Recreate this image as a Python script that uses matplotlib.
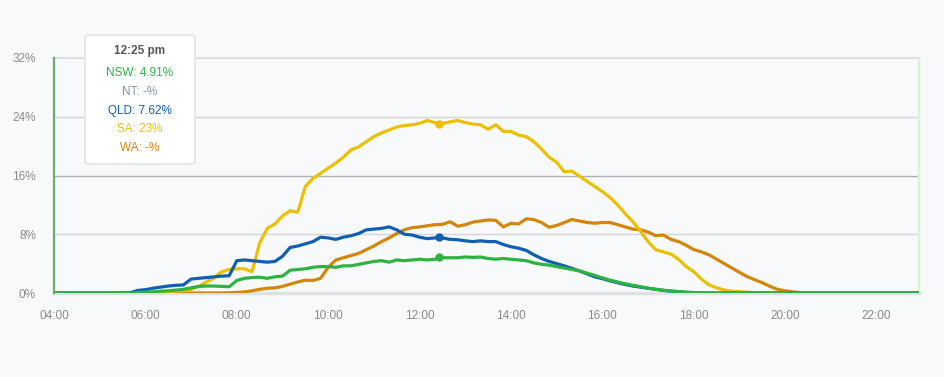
import numpy as np
import matplotlib
matplotlib.use("Agg")
import matplotlib.pyplot as plt
from matplotlib.patches import FancyBboxPatch

plt.rcParams['font.family'] = ['Liberation Sans', 'DejaVu Sans']

# 10 minute grid, 04:00 .. 23:00 (hours)
times = np.arange(4 * 60, 23 * 60 + 1, 10) / 60.0

# solar share (%) readings, each list starts at the given time
nsw_start = 5 + 40 / 60
nsw = [0, 0.05, 0.1, 0.15, 0.25, 0.3, 0.4, 0.5,
       0.7, 0.9, 0.95, 0.95, 0.9, 0.85,
       1.7, 2.0, 2.1, 2.15, 2.0, 2.2,
       2.3, 3.1, 3.2, 3.3, 3.5, 3.6,
       3.6, 3.5, 3.7, 3.7, 3.9, 4.1,
       4.3, 4.4, 4.2, 4.5, 4.4, 4.5,
       4.6, 4.5, 4.6, 4.8, 4.8, 4.8,
       4.9, 4.85, 4.9, 4.7, 4.6, 4.7,
       4.6, 4.5, 4.4, 4.1, 3.9, 3.8,
       3.6, 3.4, 3.2, 3.0, 2.7, 2.4,
       2.05, 1.75, 1.5, 1.25, 1.05, 0.85,
       0.65, 0.5, 0.38, 0.28, 0.2, 0.12,
       0.06, 0.02]

qld_start = 5 + 40 / 60
qld = [0.05, 0.35, 0.45, 0.65, 0.8, 0.95, 1.05, 1.1,
       1.9, 2.0, 2.1, 2.2, 2.3, 2.35,
       4.4, 4.5, 4.4, 4.3, 4.2, 4.3,
       5.0, 6.2, 6.4, 6.7, 7.0, 7.6,
       7.5, 7.3, 7.6, 7.8, 8.1, 8.6,
       8.7, 8.8, 9.0, 8.6, 8.0, 7.9,
       7.6, 7.4, 7.5, 7.5, 7.3, 7.25,
       7.1, 7.0, 7.1, 7.0, 7.0, 6.6,
       6.3, 6.1, 5.8, 5.2, 4.7, 4.3,
       4.0, 3.7, 3.35, 3.0, 2.6, 2.2,
       1.95, 1.65, 1.4, 1.15, 0.95, 0.8,
       0.65, 0.5, 0.35, 0.25, 0.15, 0.08,
       0.03]

sa_start = 5 + 50 / 60
sa = [0, 0.05, 0.1, 0.15, 0.2, 0.25, 0.35,
      0.5, 0.9, 1.5, 2.0, 2.9, 3.2,
      3.3, 3.3, 2.9, 6.8, 8.8, 9.4,
      10.5, 11.2, 11.0, 14.5, 15.6, 16.3,
      17.0, 17.7, 18.5, 19.5, 19.9, 20.6,
      21.3, 21.8, 22.2, 22.6, 22.8, 22.9,
      23.1, 23.5, 23.2, 23.1, 23.3, 23.5,
      23.2, 23.0, 22.9, 22.3, 22.9, 22.0,
      22.0, 21.5, 21.3, 20.6, 19.6, 18.5,
      17.8, 16.5, 16.6, 15.9, 15.2, 14.5,
      13.8, 13.0, 12.0, 10.8, 9.7, 8.4,
      7.0, 5.9, 5.6, 5.3, 4.6, 3.6,
      2.9, 1.9, 1.1, 0.7, 0.4, 0.25,
      0.18, 0.1, 0.05, 0.02]

wa_start = 7 + 40 / 60
wa = [0, 0.03, 0.08, 0.15, 0.3, 0.5, 0.65, 0.7,
      0.9, 1.2, 1.5, 1.75, 1.7, 2.0,
      3.5, 4.5, 4.8, 5.1, 5.4, 5.9,
      6.4, 7.0, 7.5, 8.1, 8.6, 8.9,
      9.0, 9.15, 9.3, 9.35, 9.7, 9.1,
      9.3, 9.65, 9.8, 9.95, 9.9, 9.0,
      9.5, 9.4, 10.1, 10.0, 9.6, 8.95,
      9.2, 9.6, 10.0, 9.8, 9.6, 9.5,
      9.6, 9.6, 9.3, 9.0, 8.7, 8.6,
      8.3, 7.8, 7.9, 7.3, 7.0, 6.5,
      5.9, 5.6, 5.2, 4.6, 4.0, 3.4,
      2.8, 2.25, 1.8, 1.4, 0.9, 0.5,
      0.3, 0.15, 0.05]

# hovered point
hover_t = 12 + 25 / 60
hover_nsw = 4.91
hover_qld = 7.62
hover_sa = 23

c_nsw = '#2db342'
c_nt = '#7d93ab'
c_qld = '#0f5fb5'
c_sa = '#ecc000'
c_wa = '#d4860b'


def full(start, vals):
    i0 = int(round((start - 4) * 6))
    out = np.zeros(len(times))
    out[i0:i0 + len(vals)] = vals
    return out


bg = '#f8f9fb'
fig = plt.figure(figsize=(9.45, 3.77), dpi=100, facecolor=bg)
ax = fig.add_axes([54 / 945, 1 - 293 / 377, 864.5 / 945, 235 / 377], facecolor=bg)

for v, col in [(8, '#d3d4d8'), (16, '#aeafb3'), (24, '#d3d4d8')]:
    ax.axhline(v, color=col, lw=1, zorder=1)

lw = 2.3
ax.plot(times, full(wa_start, wa), color=c_wa, lw=lw, zorder=3)
ax.plot(times, full(sa_start, sa), color=c_sa, lw=lw, zorder=4)
ax.plot(times, full(qld_start, qld), color=c_qld, lw=lw, zorder=5)
ax.plot(times, full(nsw_start, nsw), color=c_nsw, lw=lw, zorder=6)

ax.plot(hover_t, hover_sa, 'o', color=c_sa, ms=5, zorder=7)
ax.plot(hover_t, hover_qld, 'o', color=c_qld, ms=5, zorder=7)
ax.plot(hover_t, hover_nsw, 'o', color=c_nsw, ms=5, zorder=7)

ax.set_xlim(4, 22 + 55 / 60)
ax.set_ylim(0, 32)
ax.set_yticks([0, 8, 16, 24, 32])
ax.set_yticklabels(['0%', '8%', '16%', '24%', '32%'])
xt = np.arange(4, 23, 2)
ax.set_xticks(xt)
ax.set_xticklabels(['%02d:00' % h for h in xt])
ax.tick_params(length=0, labelsize=8.5, labelcolor='#8a8a8a')
ax.tick_params(axis='y', pad=13)
ax.tick_params(axis='x', pad=12)

ax.spines['left'].set_color('#6aae74')
ax.spines['left'].set_linewidth(1.6)
ax.spines['right'].set_color('#d6f7d6')
ax.spines['right'].set_linewidth(1.6)
ax.spines['top'].set_color('#dfe0e3')
ax.spines['top'].set_linewidth(1.6)
ax.spines['bottom'].set_color('#e0e1e4')
ax.spines['bottom'].set_linewidth(2.5)
ax.spines['left'].set_zorder(8)

# tooltip
W, H = 945.0, 377.0
box = FancyBboxPatch((85 / W, 1 - 164 / H), 110 / W, 129 / H,
                     boxstyle='round,pad=0,rounding_size=0.006',
                     transform=fig.transFigure, facecolor='white',
                     edgecolor='#e3e3e3', lw=1.2, zorder=10)
fig.patches.append(box)
cx = 140 / W
fig.text(cx, 1 - 51 / H, '12:25 pm', ha='center', va='center', fontsize=8.5,
         fontweight='bold', color='#555555', zorder=11)
rows = [('NSW: 4.91%', c_nsw), ('NT: -%', c_nt), ('QLD: 7.62%', c_qld),
        ('SA: 23%', c_sa), ('WA: -%', c_wa)]
for i, (txt, col) in enumerate(rows):
    fig.text(cx, 1 - (73 + i * 18.8) / H, txt, ha='center', va='center',
             fontsize=8.5, color=col, zorder=11)

fig.savefig('out.png', dpi=100, facecolor=bg)
